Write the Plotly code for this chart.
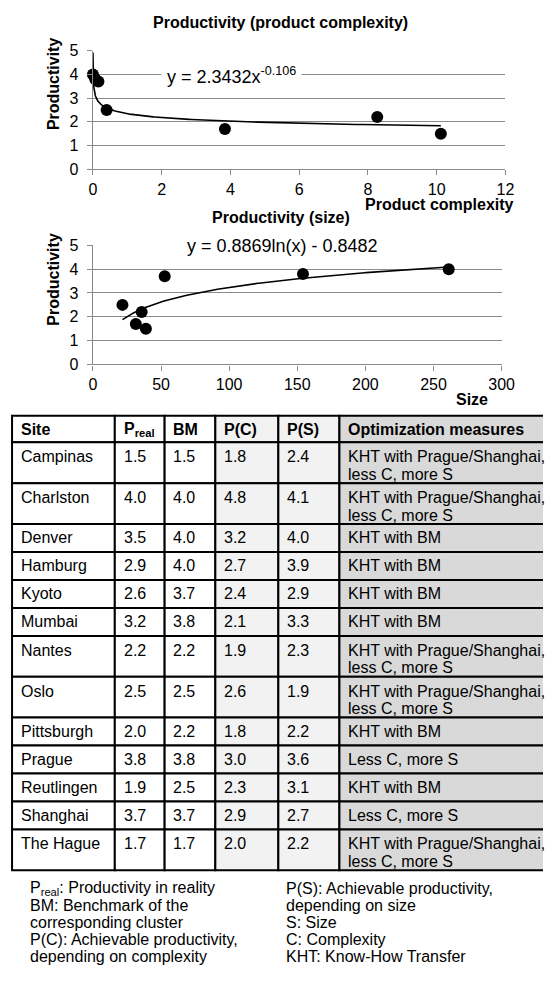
import numpy as np
import plotly.graph_objects as go

# ---------------- data ----------------
# Chart 1: productivity vs product complexity (benchmark sites)
c_sites = ["Charlston", "Prague", "Shanghai", "Oslo", "The Hague", "Nantes", "Campinas"]
complexity = [0.0009, 0.07, 0.16, 0.40, 3.84, 8.27, 10.12]
prod_c = [4.0, 3.8, 3.7, 2.5, 1.7, 2.2, 1.5]
power_coef = 2.3432
power_exp = -0.106

# Chart 2: productivity vs size
s_sites = ["Oslo", "The Hague", "Nantes", "Campinas", "Shanghai", "Prague", "Charlston"]
size = [21.7, 31.5, 35.8, 38.9, 52.7, 154.2, 261.2]
prod_s = [2.5, 1.7, 2.2, 1.5, 3.7, 3.8, 4.0]
log_coef = 0.8869
log_const = -0.8482

x1_ticks = [0, 2, 4, 6, 8, 10, 12]
x2_ticks = [0, 50, 100, 150, 200, 250, 300]
y_ticks = [0, 1, 2, 3, 4, 5]

# Table
headers = ["Site", "P<sub>real</sub>", "BM", "P(C)", "P(S)", "Optimization measures"]
site = ["Campinas", "Charlston", "Denver", "Hamburg", "Kyoto", "Mumbai", "Nantes",
        "Oslo", "Pittsburgh", "Prague", "Reutlingen", "Shanghai", "The Hague"]
p_real = ["1.5", "4.0", "3.5", "2.9", "2.6", "3.2", "2.2", "2.5", "2.0", "3.8", "1.9", "3.7", "1.7"]
bm = ["1.5", "4.0", "4.0", "4.0", "3.7", "3.8", "2.2", "2.5", "2.2", "3.8", "2.5", "3.7", "1.7"]
p_c = ["1.8", "4.8", "3.2", "2.7", "2.4", "2.1", "1.9", "2.6", "1.8", "3.0", "2.3", "2.9", "2.0"]
p_s = ["2.4", "4.1", "4.0", "3.9", "2.9", "3.3", "2.3", "1.9", "2.2", "3.6", "3.1", "2.7", "2.2"]
KHT_PS = "KHT with Prague/Shanghai,\nless C, more S"
measures = [KHT_PS, KHT_PS, "KHT with BM", "KHT with BM", "KHT with BM", "KHT with BM",
            KHT_PS, KHT_PS, "KHT with BM", "Less C, more S", "KHT with BM",
            "Less C, more S", KHT_PS]

legend_left = ["P<sub>real</sub>: Productivity in reality", "BM: Benchmark of the",
               "corresponding cluster", "P(C): Achievable productivity,",
               "depending on complexity"]
legend_right = ["P(S): Achievable productivity,", "depending on size", "S: Size",
                "C: Complexity", "KHT: Know-How Transfer"]

# ---------------- layout constants ----------------
W, H = 556, 985
FONT = "Liberation Sans, Arial, sans-serif"
GRID = "#8a8a8a"


def fx(p):
    return p / W


def fy(p):
    return 1 - p / H


fig = go.Figure()

# ---- chart 1 ----
xc = np.geomspace(min(complexity), max(complexity), 400)
fig.add_trace(go.Scatter(x=xc, y=power_coef * xc ** power_exp, mode="lines",
                         line=dict(color="black", width=1.6), xaxis="x", yaxis="y",
                         hoverinfo="skip", showlegend=False))
fig.add_trace(go.Scatter(x=complexity, y=prod_c, mode="markers", text=c_sites,
                         marker=dict(color="black", size=12), cliponaxis=False,
                         xaxis="x", yaxis="y", showlegend=False))

# ---- chart 2 ----
xs = np.linspace(min(size), max(size), 300)
fig.add_trace(go.Scatter(x=xs, y=log_coef * np.log(xs) + log_const, mode="lines",
                         line=dict(color="black", width=1.6), xaxis="x2", yaxis="y2",
                         hoverinfo="skip", showlegend=False))
fig.add_trace(go.Scatter(x=size, y=prod_s, mode="markers", text=s_sites,
                         marker=dict(color="black", size=12), cliponaxis=False,
                         xaxis="x2", yaxis="y2", showlegend=False))

axis_common = dict(showline=True, linecolor=GRID, linewidth=1.4, ticks="outside",
                   ticklen=5, tickcolor=GRID, tickwidth=1.4, zeroline=False,
                   tickfont=dict(family=FONT, size=16, color="black"), fixedrange=True)

fig.update_layout(
    width=W, height=H, margin=dict(l=0, r=0, t=0, b=0),
    paper_bgcolor="white", plot_bgcolor="rgba(0,0,0,0)", showlegend=False,
    xaxis=dict(domain=[fx(91.7), fx(517.3)], range=[0, 12], tickvals=x1_ticks,
               showgrid=False, anchor="y", **axis_common),
    yaxis=dict(domain=[fy(164), fy(43.5)], range=[0, 5], tickvals=y_ticks,
               showgrid=True, gridcolor=GRID, gridwidth=1.4, anchor="x",
               ticklabelstandoff=5, **axis_common),
    xaxis2=dict(domain=[fx(91.7), fx(513.3)], range=[0, 300], tickvals=x2_ticks,
                showgrid=False, anchor="y2", **axis_common),
    yaxis2=dict(domain=[fy(362.7), fy(241.5)], range=[0, 5], tickvals=y_ticks,
                showgrid=True, gridcolor=GRID, gridwidth=1.4, anchor="x2",
                ticklabelstandoff=5, **axis_common),
    xaxis3=dict(domain=[0, 1], range=[0, W], visible=False, anchor="y3", fixedrange=True),
    yaxis3=dict(domain=[0, 1], range=[H, 0], visible=False, anchor="x3", fixedrange=True),
)

annotations = []


def note(text, x, y, xref, yref, size=16, xanchor="center", yanchor="middle", **kw):
    annotations.append(dict(text=text, x=x, y=y, xref=xref, yref=yref, showarrow=False,
                            xanchor=xanchor, yanchor=yanchor,
                            font=dict(family=FONT, size=size, color="black"), **kw))


# equations (white boxes over grid lines)
note("y = 2.3432x<sup>-0.106</sup>", 4.04, 3.97, "x", "y", size=18,
     bgcolor="white", borderpad=5)
note(" y = 0.8869ln(x) - 0.8482 ", 139.5, 4.97, "x2", "y2", size=18,
     bgcolor="white", borderpad=3)

# titles
note("<b>Productivity (product complexity)</b>", 285.5, 15, "x3", "y3")
note("<b>Productivity (size)</b>", 285.5, 213, "x3", "y3")
# axis titles
for yc in (77, 276):
    note("<b>Productivity</b>", 51, yc, "x3", "y3", textangle=-90)
note("<b>Product complexity</b>", 528, 200, "x3", "y3", xanchor="right")
note("<b>Size</b>", 501.5, 398, "x3", "y3", xanchor="right")

# ---------------- table ----------------
TBL_LEFT, TBL_TOP = 8.3, 415
col_widths = [106, 51.4, 52.3, 65, 63, 212]
col_fill = ["white", "white", "white", "#f2f2f2", "#f2f2f2", "#d9d9d9"]
HEAD_H, ROW_H, EXTRA_H = 27, 28.5, 13
LINE_H, FIRST_Y, PAD = 18, 14.5, 7
TFONT = 16

col_left = list(np.cumsum([TBL_LEFT] + col_widths[:-1]))
shapes = []
columns = [site, p_real, bm, p_c, p_s, measures]
rows = [headers] + [[c[i] for c in columns] for i in range(len(site))]
y_top = TBL_TOP
for r, row in enumerate(rows):
    cells = [str(v).split("\n") for v in row]
    nlines = max(len(c) for c in cells)
    base = HEAD_H if r == 0 else ROW_H
    rh = base + (nlines - 1) * EXTRA_H
    for c, lines in enumerate(cells):
        shapes.append(dict(type="rect", xref="x3", yref="y3", x0=col_left[c],
                           x1=col_left[c] + col_widths[c], y0=y_top, y1=y_top + rh,
                           fillcolor=col_fill[c], line=dict(color="black", width=2),
                           layer="below"))
        for k, ln in enumerate(lines):
            ty = y_top + (base / 2 if nlines == 1 else FIRST_Y + k * LINE_H)
            note(f"<b>{ln}</b>" if r == 0 else ln, col_left[c] + PAD, ty, "x3", "y3",
                 size=TFONT, xanchor="left")
    y_top += rh

# ---------------- legend notes ----------------
LEG_TOP, LEG_LH = 896, 17.3
for i, (a, b) in enumerate(zip(legend_left, legend_right)):
    note(a, 25, LEG_TOP + i * LEG_LH, "x3", "y3", size=16, xanchor="left")
    note(b, 289, LEG_TOP + i * LEG_LH, "x3", "y3", size=16, xanchor="left")

fig.update_layout(annotations=annotations, shapes=shapes)
fig.write_html("out.html", config={"displayModeBar": False},
               post_script="document.body.style.margin='0px';")
